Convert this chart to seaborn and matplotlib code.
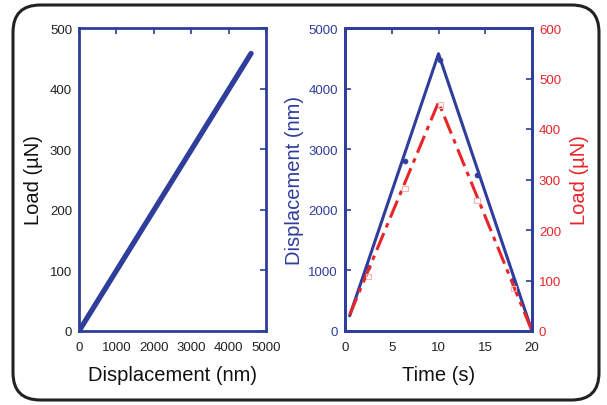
import matplotlib
matplotlib.use("Agg")
import matplotlib.pyplot as plt
from matplotlib.patches import FancyBboxPatch
import seaborn as sns
import pandas as pd

# ---- data ----
left_disp = [0, 4600]
left_load = [0, 458]

time_line = [0.5, 10, 20]
disp_line = [250, 4575, 0]
load_line = [32, 453, 0]

time_mark = [2.5, 6.4, 10.2, 14.1, 18.0]
disp_mark = [1050, 2800, 4470, 2580, 845]
load_mark = [108, 282, 447, 258, 84]

left_xticks = [0, 1000, 2000, 3000, 4000, 5000]
left_yticks = [0, 100, 200, 300, 400, 500]
right_xticks = [0, 5, 10, 15, 20]
right_yticks = [0, 1000, 2000, 3000, 4000, 5000]
right_y2ticks = [0, 100, 200, 300, 400, 500, 600]

BLUE = "#2f3d9c"
RED = "#e8262a"

sns.set_theme(style="white")
plt.rcParams['font.family'] = ['Liberation Sans', 'DejaVu Sans']

fig = plt.figure(figsize=(6.07, 4.06), dpi=100)
W, H = 607, 406

frame = FancyBboxPatch((13 / W, 5 / H), 586 / W, 395 / H,
                       boxstyle="round,pad=0,rounding_size=0.045",
                       transform=fig.transFigure, fill=False,
                       edgecolor="#222222", linewidth=2.2, mutation_aspect=W / H)
fig.patches.append(frame)

ax1 = fig.add_axes([79 / W, 1 - 332 / H, 187 / W, 303 / H])
ax2 = fig.add_axes([345 / W, 1 - 332 / H, 187 / W, 303 / H])

LABEL_FS = 14.5
TICK_FS = 9.5

# ---- left chart ----
df_left = pd.DataFrame({"disp": left_disp, "load": left_load})
sns.lineplot(data=df_left, x="disp", y="load", ax=ax1, color=BLUE, linewidth=3.8)
ax1.set_xlim(0, 5000)
ax1.set_ylim(0, 500)
ax1.set_xticks(left_xticks)
ax1.set_yticks(left_yticks)
ax1.set_xlabel("Displacement (nm)", fontsize=LABEL_FS, color="#111111", labelpad=9)
ax1.set_ylabel("Load (µN)", fontsize=LABEL_FS, color="#111111", labelpad=5)
ax1.tick_params(axis="both", direction="in", length=4, width=1.2, color=BLUE,
                labelsize=TICK_FS, labelcolor="#222222", top=True, right=True, pad=5)
ax1.tick_params(axis="x", pad=7)

# ---- right chart ----
df_line = pd.DataFrame({"t": time_line, "d": disp_line, "l": load_line})
df_mark = pd.DataFrame({"t": time_mark, "d": disp_mark, "l": load_mark})
sns.lineplot(data=df_line, x="t", y="d", ax=ax2, color=BLUE, linewidth=2.2)
sns.scatterplot(data=df_mark, x="t", y="d", ax=ax2, color=BLUE, s=14,
                marker="o", edgecolor=BLUE, zorder=4)
ax2.set_xlim(0, 20)
ax2.set_ylim(0, 5000)
ax2.set_xticks(right_xticks)
ax2.set_yticks(right_yticks)
ax2.set_xlabel("Time (s)", fontsize=LABEL_FS, color="#111111", labelpad=9)
ax2.set_ylabel("Displacement (nm)", fontsize=LABEL_FS, color=BLUE, labelpad=3)
ax2.tick_params(axis="both", direction="in", length=4, width=1.2, color=BLUE,
                labelsize=TICK_FS, top=True, pad=5)
ax2.tick_params(axis="y", labelcolor=BLUE)
ax2.tick_params(axis="x", labelcolor="#222222", pad=7)

ax3 = ax2.twinx()
sns.lineplot(data=df_line, x="t", y="l", ax=ax3, color=RED, linewidth=2.2,
             linestyle=(0, (6, 2, 1.5, 2)))
sns.scatterplot(data=df_mark, x="t", y="l", ax=ax3, marker="s", s=16,
                facecolor="none", edgecolor="#f2b5b5", linewidth=0.8, zorder=4)
ax3.set_ylim(0, 600)
ax3.set_yticks(right_y2ticks)
ax3.set_ylabel("Load (µN)", fontsize=LABEL_FS, color=RED, rotation=90, labelpad=6)
ax3.tick_params(axis="y", direction="in", length=4, width=1.2, color=BLUE,
                labelsize=TICK_FS, labelcolor=RED, pad=5)

for ax in (ax1, ax2, ax3):
    for s in ax.spines.values():
        s.set_color(BLUE)
        s.set_linewidth(2)
    ax.grid(False)
ax1.set_facecolor("white")
ax2.set_facecolor("white")

fig.savefig("out.png", dpi=100, facecolor="white")
